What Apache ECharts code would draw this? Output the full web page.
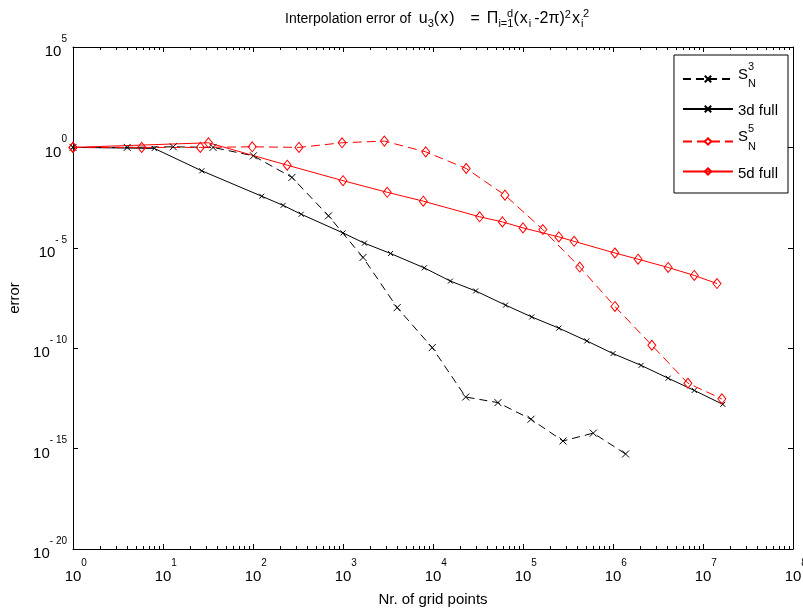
<!DOCTYPE html>
<html>
<head>
<meta charset="utf-8">
<script src="https://cdn.jsdelivr.net/npm/echarts@6/dist/echarts.min.js"></script>
<style>
html,body{margin:0;padding:0;background:#fff;}
#chart{width:803px;height:612px;}
</style>
</head>
<body>
<div id="chart"></div>
<script>
// ---- data ----
var s3N   = [1, 4, 13, 36, 101, 271, 690, 1670, 4000, 9800, 23100, 52700, 122700, 278000, 604000, 1380000];
var s3Err = [1, 1, 1.07, 1, 0.38, 0.032, 3.9e-4, 3.3e-6, 1.05e-8, 1.07e-10, 3.7e-13, 1.95e-13, 2.9e-14, 2.4e-15, 5.9e-15, 5.4e-16];

var full3N   = [1, 8, 27, 125, 216, 343, 1000, 1730, 3380, 8000, 15600, 29800, 64000, 125000, 250000, 512000, 1000000, 2050000, 4100000, 8000000, 16600000];
var full3Err = [1, 0.89, 0.068, 3.7e-3, 1.3e-3, 4.7e-4, 5.5e-5, 1.7e-5, 5.2e-6, 1.0e-6, 2.2e-7, 7.1e-8, 1.4e-8, 3.6e-9, 1.0e-9, 2.3e-10, 5.4e-11, 1.4e-11, 3.2e-12, 7.9e-13, 1.6e-13];

var s5N   = [1, 5.8, 26, 98, 324, 977, 2880, 8300, 23400, 63000, 166000, 427000, 1050000, 2700000, 6800000, 16200000];
var s5Err = [1, 1, 1, 1.07, 1, 1.7, 2.06, 0.6, 0.089, 4.2e-3, 8.1e-5, 1.1e-6, 1.2e-8, 1.4e-10, 1.8e-12, 3.0e-13];

var full5N   = [1, 32, 240, 1000, 3100, 7800, 33000, 59000, 100000, 250000, 370000, 1050000, 1900000, 4100000, 8000000, 14300000];
var full5Err = [1, 1.7, 0.13, 0.022, 5.8e-3, 2.1e-3, 3.5e-4, 1.95e-4, 9.8e-5, 3.5e-5, 2.1e-5, 5.5e-6, 2.7e-6, 1.05e-6, 4.2e-7, 1.66e-7];

var seriesNames = ['S3', '3d full', 'S5', '5d full'];
var xTickExps = [0, 1, 2, 3, 4, 5, 6, 7, 8];
var yTickExps = [-20, -15, -10, -5, 0, 5];

function pairs(xs, ys) { return xs.map(function (x, i) { return [x, ys[i]]; }); }

var xMajor = xTickExps.map(function (e) { return Math.pow(10, e); });
var yMajor = yTickExps.map(function (e) { return Math.pow(10, e); });
var minorX = [];
xTickExps.slice(0, -1).forEach(function (e) {
  for (var k = 2; k <= 9; k++) minorX.push(k * Math.pow(10, e));
});

var FONT = 'Liberation Sans';
var xSym = 'path://M0,0L10,10M0,10L10,0';
var dSym = 'path://M5,0L10,6L5,12L0,6Z';

var chart = echarts.init(document.getElementById('chart'));

function xLabelFmt(v) {
  var e = Math.round(Math.log10(v));
  return '{e|' + e + '}\n{b|10}';
}
function yLabelFmt(v) {
  var e = Math.round(Math.log10(v));
  var s = e < 0 ? '- ' + (-e) : String(e);
  return '{e|' + s + '}\n{b|10}{p|' + s + '}';
}

var baseX = { type: 'log', logBase: 10, min: 1, max: 1e8, splitLine: { show: false } };
var baseY = { type: 'log', logBase: 10, min: 1e-20, max: 1e5, splitLine: { show: false } };

var option = {
  backgroundColor: '#fff',
  animation: false,
  title: [{
    left: 280, top: 4,
    text: '{n|Interpolation error of  }{m|u}{sb|3}{m|(}{x|x}{m|)}{eq|=}{m|Π}{sb|i=1}{m|(}{x|x}{sb|i}{mp|-2π)}{sp|2}{x|x}{sb|i}',
    textStyle: {
      fontFamily: FONT, fontSize: 14, color: '#000', fontWeight: 'normal',
      rich: {
        n: { fontFamily: FONT, fontSize: 14, color: '#000' },
        m: { fontFamily: FONT, fontSize: 16, color: '#000' },
        mp: { fontFamily: FONT, fontSize: 16, color: '#000', padding: [0, 0, 0, 3] },
        x: { fontFamily: FONT, fontSize: 16, color: '#000', padding: [0, 1, 0, 1] },
        eq: { fontFamily: FONT, fontSize: 16, color: '#000', padding: [0, 7, 0, 16] },
        sb: { fontFamily: FONT, fontSize: 11, color: '#000', padding: [9, 0, 0, 0] },
        sp: { fontFamily: FONT, fontSize: 11, color: '#000', padding: [0, 0, 9, 0] }
      }
    }
  }, {
    left: 502, top: 3,
    text: 'd',
    textStyle: { fontFamily: FONT, fontSize: 11, color: '#000', fontWeight: 'normal' }
  }, {
    left: 578, top: 3,
    text: '2',
    textStyle: { fontFamily: FONT, fontSize: 11, color: '#000', fontWeight: 'normal' }
  }],
  grid: { left: 73, right: 10, top: 47, bottom: 63, containLabel: false, outerBoundsMode: 'none' },
  legend: {
    orient: 'vertical',
    right: 15, top: 55,
    padding: [6, 10, 12, 8],
    itemGap: 5,
    itemWidth: 50, itemHeight: 8,
    backgroundColor: '#fff',
    borderColor: '#000', borderWidth: 1, borderRadius: 0,
    data: seriesNames,
    formatter: function (name) {
      if (name === 'S3') return '{sp|3}\n{s|S}\n{n|N}\n{z| }';
      if (name === 'S5') return '{sp|5}\n{s|S}\n{n|N}\n{z| }';
      return '{t|' + name + '}';
    },
    textStyle: {
      fontFamily: FONT, fontSize: 15, color: '#000',
      rich: {
        t: { fontFamily: FONT, fontSize: 15, color: '#000', lineHeight: 16, padding: [4, 0, 0, 0] },
        s: { fontFamily: FONT, fontSize: 15, color: '#000', lineHeight: 10 },
        n: { fontFamily: FONT, fontSize: 11, color: '#000', lineHeight: 9, padding: [0, 0, 0, 10] },
        sp: { fontFamily: FONT, fontSize: 11, color: '#000', lineHeight: 6, padding: [0, 0, 0, 10] },
        z: { fontSize: 6, lineHeight: 6 }
      }
    }
  },
  xAxis: [
    Object.assign({}, baseX, {
      position: 'bottom',
      name: 'Nr. of grid points', nameLocation: 'middle', nameGap: 43,
      nameTextStyle: { fontFamily: FONT, fontSize: 15, color: '#000' },
      axisLine: { lineStyle: { color: '#000', width: 1 } },
      axisTick: { inside: true, length: 5, customValues: xMajor, lineStyle: { color: '#000' } },
      axisLabel: {
        margin: 8, formatter: xLabelFmt, color: '#000', customValues: xMajor,
        rich: {
          e: { fontFamily: FONT, fontSize: 10, color: '#000', lineHeight: 12, padding: [0, 0, 0, 22] },
          b: { fontFamily: FONT, fontSize: 15, color: '#000', lineHeight: 16 }
        }
      }
    }),
    Object.assign({}, baseX, {
      position: 'bottom',
      axisLine: { show: false },
      axisTick: { inside: true, length: 3, customValues: minorX, lineStyle: { color: '#000' } },
      axisLabel: { show: false }
    }),
    Object.assign({}, baseX, {
      position: 'top',
      axisLine: { lineStyle: { color: '#000', width: 1 } },
      axisTick: { inside: true, length: 5, customValues: xMajor, lineStyle: { color: '#000' } },
      axisLabel: { show: false }
    }),
    Object.assign({}, baseX, {
      position: 'top',
      axisLine: { show: false },
      axisTick: { inside: true, length: 3, customValues: minorX, lineStyle: { color: '#000' } },
      axisLabel: { show: false }
    })
  ],
  yAxis: [
    Object.assign({}, baseY, {
      position: 'left',
      name: 'error', nameLocation: 'middle', nameGap: 45,
      nameTextStyle: { fontFamily: FONT, fontSize: 15, color: '#000' },
      axisLine: { lineStyle: { color: '#000', width: 1 } },
      axisTick: { inside: true, length: 5, customValues: yMajor, lineStyle: { color: '#000' } },
      axisLabel: {
        margin: 6, formatter: yLabelFmt, color: '#000', align: 'right', customValues: yMajor,
        rich: {
          e: { fontFamily: FONT, fontSize: 10, color: '#000', lineHeight: 10 },
          b: { fontFamily: FONT, fontSize: 15, color: '#000', lineHeight: 16 },
          p: { fontFamily: FONT, fontSize: 10, color: 'rgba(0,0,0,0)', lineHeight: 16 }
        }
      }
    }),
    Object.assign({}, baseY, {
      position: 'right',
      axisLine: { lineStyle: { color: '#000', width: 1 } },
      axisTick: { inside: true, length: 5, customValues: yMajor, lineStyle: { color: '#000' } },
      axisLabel: { show: false }
    })
  ],
  series: [
    {
      name: 'S3', type: 'line', data: pairs(s3N, s3Err),
      symbol: xSym, symbolSize: 7,
      lineStyle: { color: '#000', width: 1, type: [8, 5] },
      itemStyle: { color: '#000', borderColor: '#000', borderWidth: 1 }
    },
    {
      name: '3d full', type: 'line', data: pairs(full3N, full3Err),
      symbol: xSym, symbolSize: 5,
      lineStyle: { color: '#000', width: 1, type: 'solid' },
      itemStyle: { color: '#000', borderColor: '#000', borderWidth: 1 }
    },
    {
      name: 'S5', type: 'line', data: pairs(s5N, s5Err),
      symbol: dSym, symbolSize: [8, 10],
      lineStyle: { color: '#ff0000', width: 1, type: [9, 5] },
      itemStyle: { color: 'rgba(255,255,255,0)', borderColor: '#ff0000', borderWidth: 1 }
    },
    {
      name: '5d full', type: 'line', data: pairs(full5N, full5Err),
      symbol: dSym, symbolSize: [8, 10],
      lineStyle: { color: '#ff0000', width: 1, type: 'solid' },
      itemStyle: { color: 'rgba(255,255,255,0)', borderColor: '#ff0000', borderWidth: 1 }
    }
  ]
};
chart.setOption(option);
</script>
</body>
</html>
